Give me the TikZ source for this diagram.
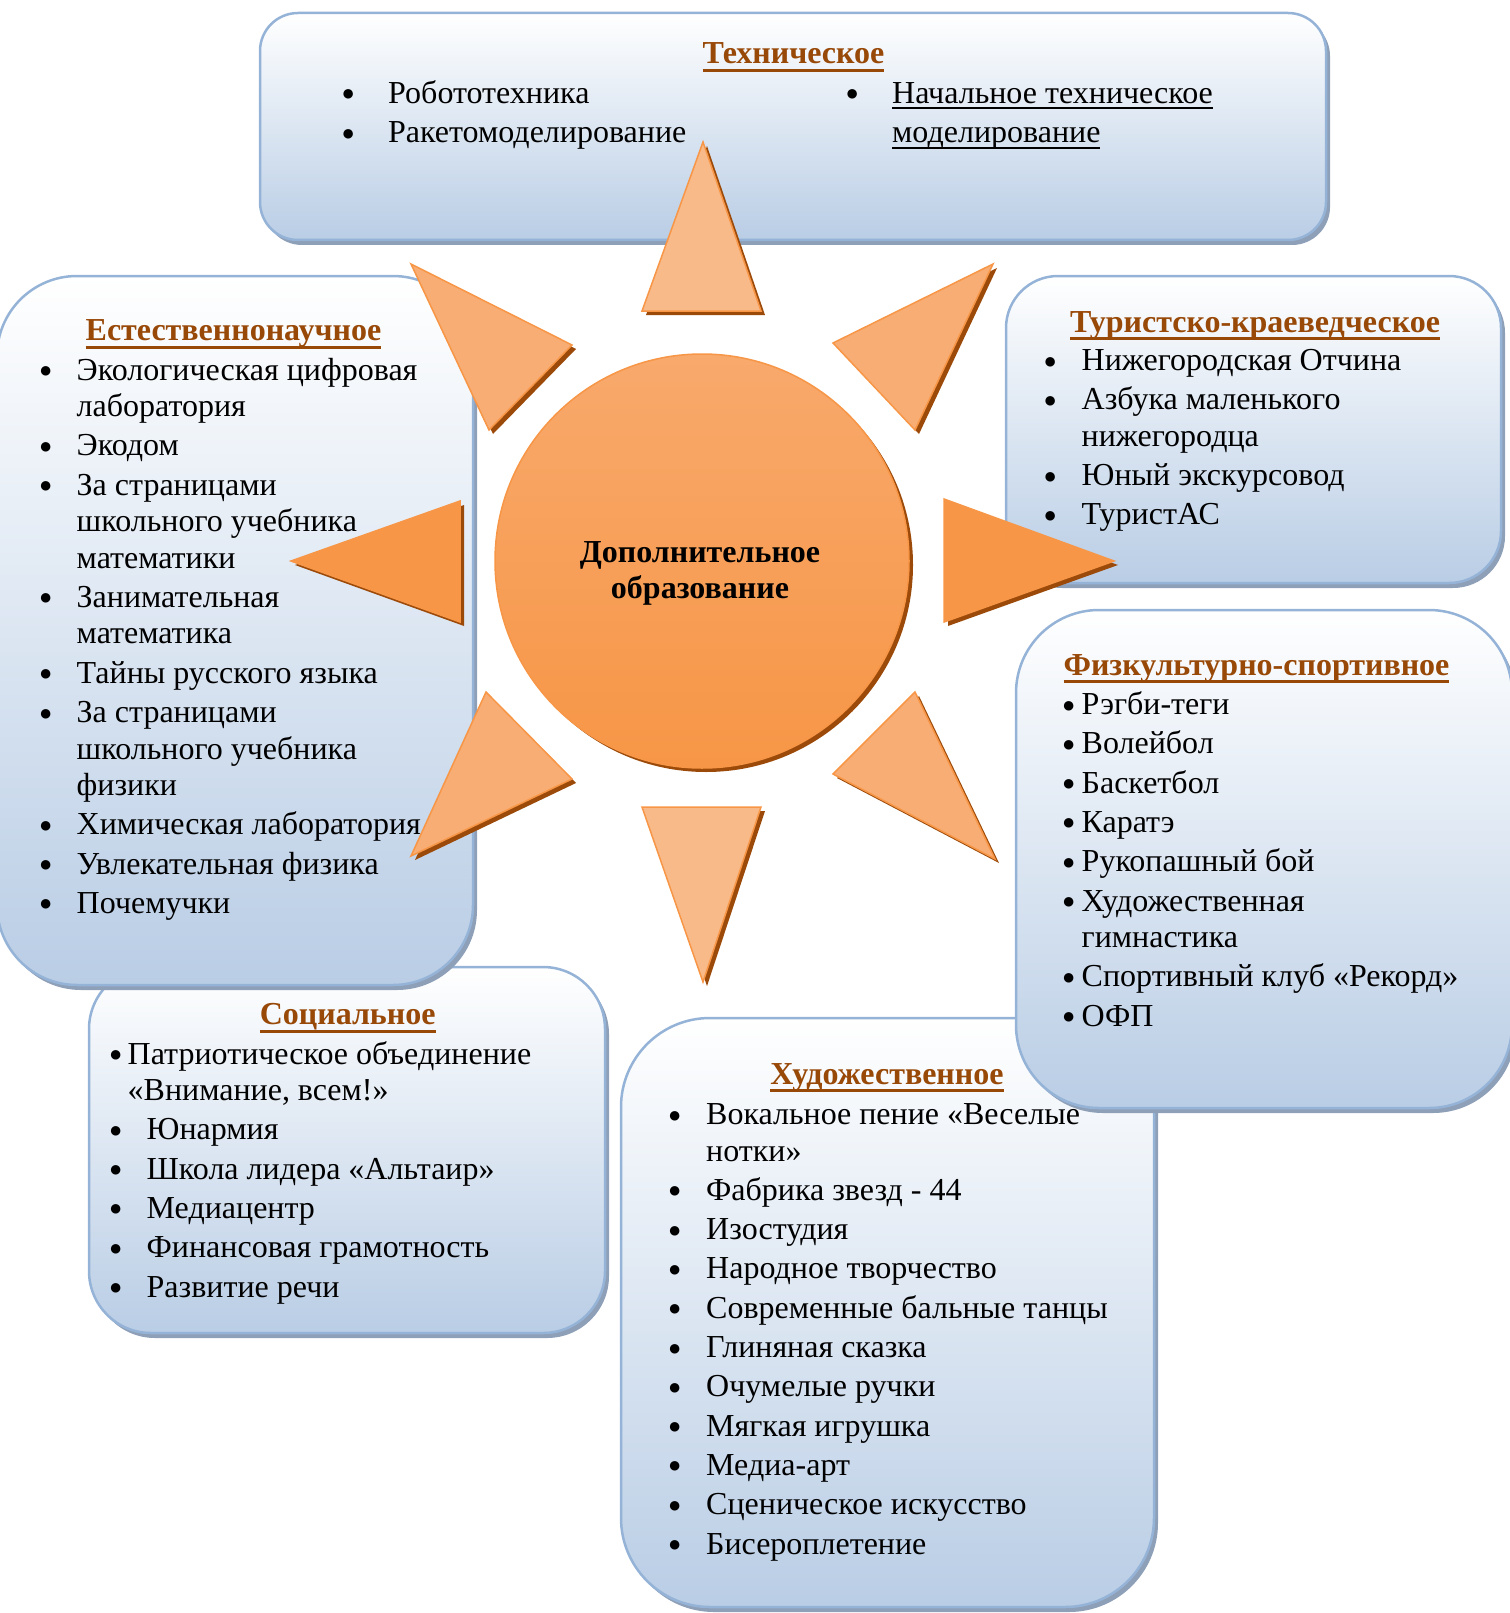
\documentclass[tikz,border=0pt]{standalone}
\usepackage{fontspec}
\setmainfont{Liberation Serif}
\definecolor{boxbot}{HTML}{B9CDE5}
\definecolor{boxline}{HTML}{95B3D7}
\definecolor{boxshadow}{HTML}{8E9FB8}
\definecolor{headbrown}{HTML}{984807}
\definecolor{sunorange}{HTML}{F79646}
\definecolor{sunlight}{HTML}{F8A96C}
\definecolor{raylight}{HTML}{F9BA89}
\definecolor{raymid}{HTML}{F7AD74}
\definecolor{sunshadow}{HTML}{9C4A0A}
\newcommand\bodyfont{\fontsize{32}{39.3}\selectfont}
\newcommand\headfont{\fontsize{32}{39}\selectfont\bfseries}
\newcommand\myul[3]{\setbox0=\hbox{#3}\rlap{\rule[#1]{\wd0}{#2}}\box0}
\newcommand\bl[1]{\makebox[0pt]{\raisebox{2.5pt}{\fontsize{22}{0}\selectfont ●}}\hspace*{#1pt}}
\newcommand\ind[1]{\hspace*{#1pt}}
\newcommand\tightrow{\noalign{\vskip -2.8pt}}
\newcommand\panel[5]{%
  \fill[boxshadow, rounded corners=#5pt] (#1+4,#2+5) rectangle (#3+4,#4+5);
  \path[panel=#5pt] (#1,#2) rectangle (#3,#4);}
\newcommand\sunray[4]{%
  \begin{scope}[shift={(4,4)}]\fill[sunshadow] (#1) -- (#2) -- (#3) -- cycle;\end{scope}
  \filldraw[ray=#4] (#1) -- (#2) -- (#3) -- cycle;}
\begin{document}
\begin{tikzpicture}[x=1pt,y=-1pt,
  panel/.style={rounded corners=#1, top color=white, bottom color=boxbot, draw=boxline, line width=2.5pt},
  ray/.style={fill=#1, draw=sunorange, line width=1.5pt, line join=miter},
  head/.style={anchor=base, inner sep=0pt, font=\headfont, text=headbrown},
  list/.style={anchor=base west, inner sep=0pt, font=\bodyfont},
]
\useasboundingbox (0,0) rectangle (1509,1613);
% panels, lower layer first
\panel{621}{1018}{1154}{1607}{89}
\panel{89}{967}{605}{1333}{62}
\panel{-3}{276}{473}{985}{80}
\panel{260}{13}{1326}{240}{38}
\panel{1006}{276}{1501}{583}{52}
\panel{1016}{610}{1512}{1108}{83}

% headings
\node[head] (h-tech) at (793.5,64) {\myul{-8pt}{3pt}{Техническое}};
\node[head] (h-nat) at (233.5,340.5) {\myul{-8pt}{3pt}{Естественнонаучное}};
\node[head] (h-tour) at (1255,332) {\myul{-8pt}{3pt}{Туристско-краеведческое}};
\node[head] (h-sport) at (1256.5,675) {\myul{-8pt}{3pt}{Физкультурно-спортивное}};
\node[head] (h-soc) at (347.7,1024.5) {\myul{-8pt}{3pt}{Социальное}};
\node[head] (h-art) at (887,1084) {\myul{-8pt}{3pt}{Художественное}};

% lists
\node[list] (l-tech1) at (348,103.5) {\begin{tabular}[t]{@{}l@{}}
\bl{40}Робототехника\\
\bl{40}Ракетомоделирование
\end{tabular}};
\node[list] (l-tech2) at (852,103.5) {\begin{tabular}[t]{@{}l@{}}
\bl{40}\myul{-6pt}{2pt}{Начальное техническое}\\
\ind{40}\myul{-6pt}{2pt}{моделирование}
\end{tabular}};
\node[list] (l-nat) at (45.5,380) {\begin{tabular}[t]{@{}l@{}}
\bl{31}Экологическая цифровая\\\tightrow
\ind{31}лаборатория\\
\bl{31}Экодом\\
\bl{31}За страницами\\\tightrow
\ind{31}школьного учебника\\\tightrow
\ind{31}математики\\
\bl{31}Занимательная\\\tightrow
\ind{31}математика\\
\bl{31}Тайны русского языка\\
\bl{31}За страницами\\\tightrow
\ind{31}школьного учебника\\\tightrow
\ind{31}физики\\
\bl{31}Химическая лаборатория\\
\bl{31}Увлекательная физика\\
\bl{31}Почемучки
\end{tabular}};
\node[list] (l-tour) at (1050,370.5) {\begin{tabular}[t]{@{}l@{}}
\bl{31.5}Нижегородская Отчина\\
\bl{31.5}Азбука маленького\\\tightrow
\ind{31.5}нижегородца\\
\bl{31.5}Юный экскурсовод\\
\bl{31.5}ТуристАС
\end{tabular}};
\node[list] (l-sport) at (1068.5,714.5) {\begin{tabular}[t]{@{}l@{}}
\bl{13}Рэгби-теги\\
\bl{13}Волейбол\\
\bl{13}Баскетбол\\
\bl{13}Каратэ\\
\bl{13}Рукопашный бой\\
\bl{13}Художественная\\\tightrow
\ind{13}гимнастика\\
\bl{13}Спортивный клуб «Рекорд»\\
\bl{13}ОФП
\end{tabular}};
\node[list] (l-soc) at (115.5,1064) {\begin{tabular}[t]{@{}l@{}}
\bl{12}Патриотическое объединение\\\tightrow
\ind{12}«Внимание, всем!»\\
\bl{31}Юнармия\\
\bl{31}Школа лидера «Альтаир»\\
\bl{31}Медиацентр\\
\bl{31}Финансовая грамотность\\
\bl{31}Развитие речи
\end{tabular}};
\node[list] (l-art) at (674.5,1124.5) {\begin{tabular}[t]{@{}l@{}}
\bl{31.5}Вокальное пение «Веселые\\\tightrow
\ind{31.5}нотки»\\
\bl{31.5}Фабрика звезд - 44\\
\bl{31.5}Изостудия\\
\bl{31.5}Народное творчество\\
\bl{31.5}Современные бальные танцы\\
\bl{31.5}Глиняная сказка\\
\bl{31.5}Очумелые ручки\\
\bl{31.5}Мягкая игрушка\\
\bl{31.5}Медиа-арт\\
\bl{31.5}Сценическое искусство\\
\bl{31.5}Бисероплетение
\end{tabular}};

% sun
\sunray{703,142}{642,311}{761,311}{raylight}
\sunray{703,982}{642,807}{761,807}{raylight}
\sunray{291,561}{460,501}{460,622}{sunorange}
\sunray{1114,561}{944,499}{944,622}{sunorange}
\sunray{411,264}{489,430}{572,345}{raymid}
\sunray{993,264}{833,343}{915,430}{raymid}
\sunray{411,856}{486,692}{572,779}{raymid}
\sunray{995,859}{833,774}{915,692}{raymid}
\fill[sunshadow] (706,565) circle (207pt);
\shade[top color=sunlight, bottom color=sunorange, draw=sunorange, line width=1.5pt] (702,561) circle (207pt);
\node[anchor=base, inner sep=0pt, font=\fontsize{32}{36}\selectfont\bfseries] (sun) at (700,562.5)
  {\begin{tabular}[t]{@{}c@{}}Дополнительное\\образование\end{tabular}};
\end{tikzpicture}
\end{document}
